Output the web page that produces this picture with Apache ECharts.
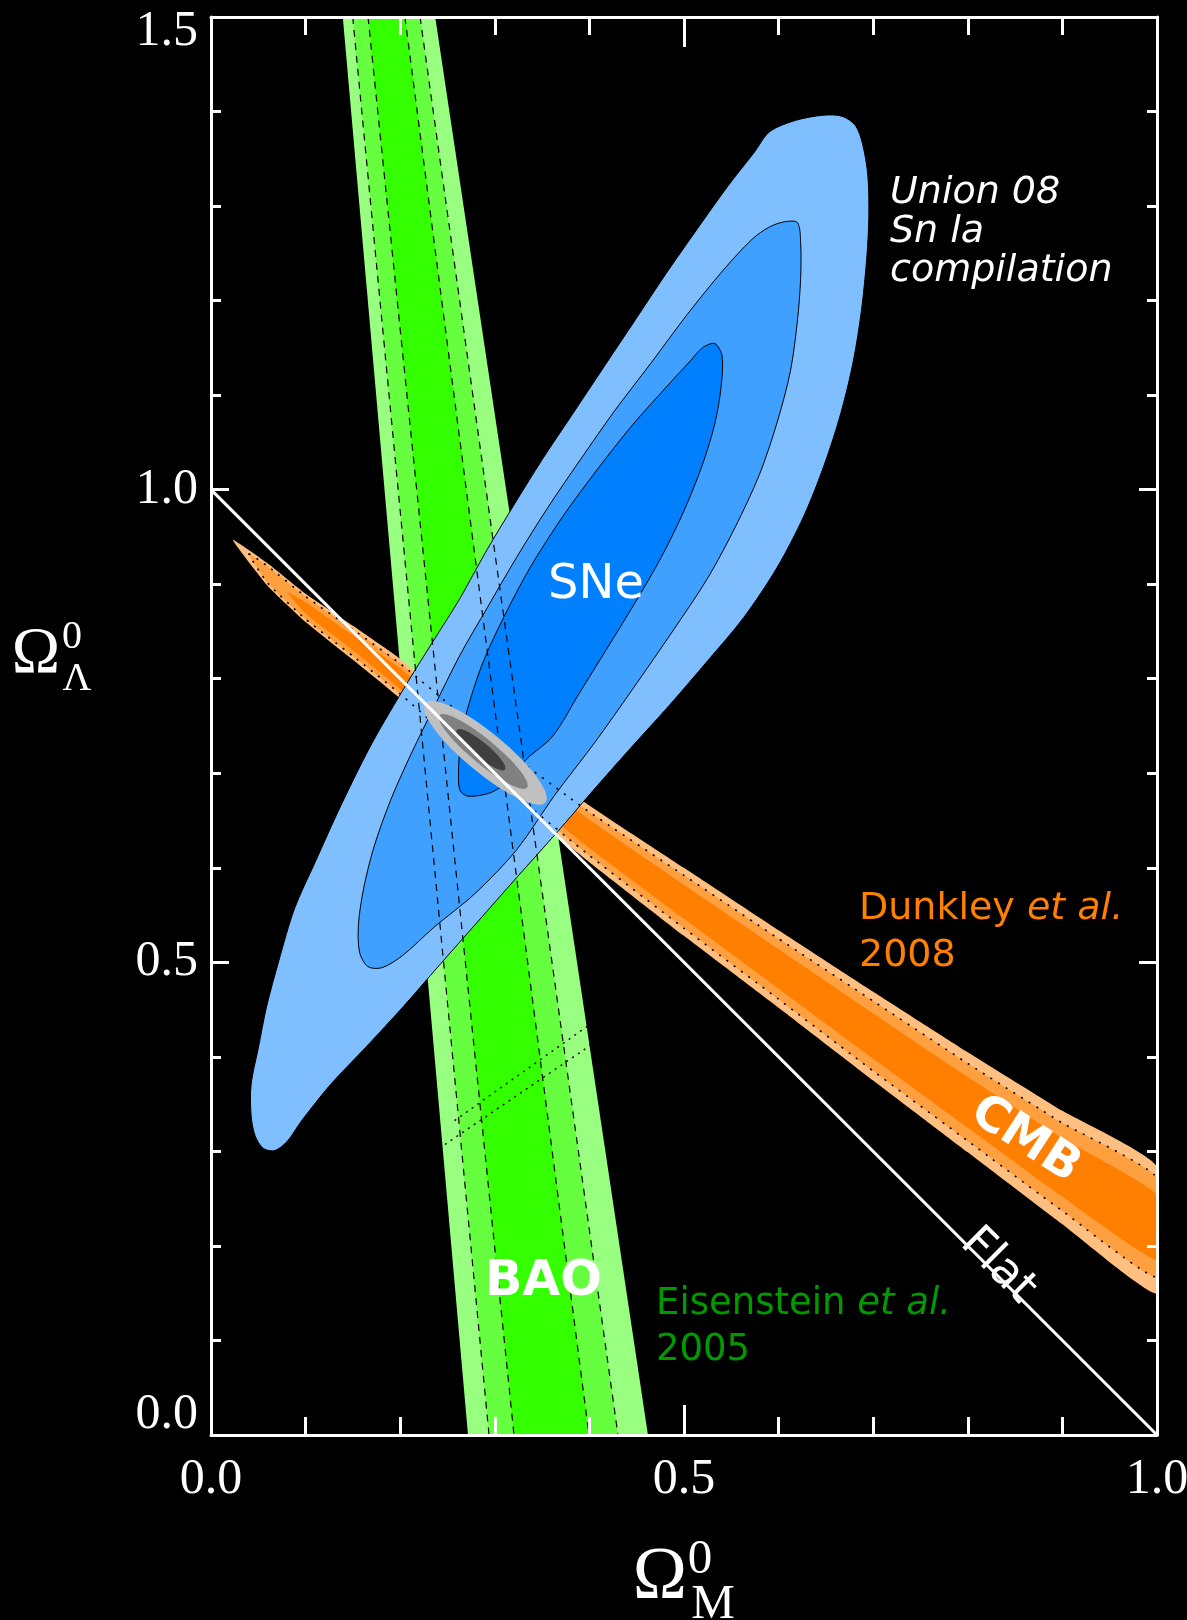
<!DOCTYPE html>
<html>
<head>
<meta charset="utf-8">
<title>Omega_M - Omega_Lambda constraints</title>
<script src="https://cdn.jsdelivr.net/npm/echarts@6/dist/echarts.min.js"></script>
<style>
  html, body { margin: 0; padding: 0; background: #000; }
  #chart { width: 1187px; height: 1620px; }
</style>
</head>
<body>
<div id="chart"></div>
<script>
// ---- Axis ranges ----
const omegaMRange = [0.0, 1.0];
const omegaLRange = [0.0, 1.5];

// ---- BAO (Eisenstein et al. 2005): confidence bands, [Omega_M, Omega_Lambda] ----
const baoOuter = [[0.1393, 1.5], [0.237, 1.5], [0.4619, 0.0], [0.2717, 0.0]];
const baoMid   = [[0.1498, 1.5], [0.221, 1.5], [0.4302, 0.0], [0.2939, 0.0]];
const baoInner = [[0.166, 1.5], [0.205, 1.5], [0.3996, 0.0], [0.3203, 0.0]];
// BAO contour edges drawn dashed on top of the other constraints
const baoEdges = [
  [[0.1498, 1.5], [0.2939, 0.0]],
  [[0.166, 1.5], [0.3203, 0.0]],
  [[0.205, 1.5], [0.3996, 0.0]],
  [[0.221, 1.5], [0.4302, 0.0]]
];

// ---- CMB (Dunkley et al. 2008) ----
const cmbOuter = [
  [0.023, 0.947], [0.06, 0.922], [0.10, 0.890], [0.15, 0.856], [0.20, 0.821], [0.30, 0.740],
  [0.40, 0.666], [0.50, 0.600], [0.60, 0.534], [0.70, 0.469], [0.80, 0.405], [0.90, 0.343], [1.00, 0.284],
  [1.00, 0.150], [0.90, 0.223], [0.80, 0.299], [0.70, 0.375], [0.60, 0.452], [0.50, 0.528],
  [0.40, 0.606], [0.30, 0.688], [0.20, 0.779], [0.15, 0.820], [0.10, 0.860], [0.06, 0.898]
];
const cmbMid = [
  [0.04, 0.932], [0.06, 0.919], [0.10, 0.887], [0.15, 0.852], [0.20, 0.816], [0.30, 0.733],
  [0.40, 0.659], [0.50, 0.592], [0.60, 0.525], [0.70, 0.459], [0.80, 0.393], [0.90, 0.330], [1.00, 0.272],
  [1.00, 0.167], [0.90, 0.237], [0.80, 0.311], [0.70, 0.385], [0.60, 0.461], [0.50, 0.536],
  [0.40, 0.613], [0.30, 0.695], [0.20, 0.784], [0.15, 0.824], [0.10, 0.863], [0.06, 0.901]
];
const cmbInner = [
  [0.08, 0.892], [0.10, 0.881], [0.15, 0.846], [0.20, 0.811], [0.30, 0.726], [0.40, 0.651],
  [0.50, 0.582], [0.60, 0.514], [0.70, 0.446], [0.80, 0.379], [0.90, 0.314], [1.00, 0.254],
  [1.00, 0.185], [0.90, 0.252], [0.80, 0.325], [0.70, 0.398], [0.60, 0.472], [0.50, 0.546],
  [0.40, 0.621], [0.30, 0.702], [0.20, 0.789], [0.15, 0.830], [0.10, 0.869]
];

// ---- SNe Ia (Union 08 compilation) ----
const snOuter = [
  [0.5905, 1.3786], [0.6178, 1.3906], [0.6473, 1.3961], [0.6670, 1.3950], [0.6812, 1.3852],
  [0.6888, 1.3655], [0.6943, 1.3327], [0.6954, 1.2890], [0.6932, 1.2453], [0.6877, 1.1906],
  [0.6790, 1.1360], [0.6659, 1.0813], [0.6484, 1.0267], [0.6266, 0.9720], [0.5982, 0.9174],
  [0.5632, 0.8649], [0.5250, 0.8190], [0.4846, 0.7720], [0.4431, 0.7261], [0.4016, 0.6791],
  [0.3667, 0.6386], [0.3230, 0.5895], [0.2815, 0.5425], [0.2411, 0.4966], [0.2029, 0.4528],
  [0.1647, 0.4113], [0.1264, 0.3708], [0.0959, 0.3326], [0.0806, 0.3107], [0.0675, 0.3009],
  [0.0555, 0.3031], [0.0467, 0.3162], [0.0424, 0.3381], [0.0424, 0.3708], [0.0500, 0.4091],
  [0.0587, 0.4528], [0.0718, 0.5020], [0.0882, 0.5566], [0.1101, 0.6059], [0.1374, 0.6660],
  [0.1701, 0.7316], [0.2083, 0.7971], [0.2356, 0.8409], [0.2629, 0.8846], [0.2902, 0.9337],
  [0.3197, 0.9829], [0.3503, 1.0321], [0.3831, 1.0813], [0.4158, 1.1305], [0.4486, 1.1797],
  [0.4813, 1.2289], [0.5141, 1.2759], [0.5469, 1.3218], [0.5742, 1.3567]
];
const snMid = [
  [0.5905, 1.2780], [0.6069, 1.2835], [0.6200, 1.2824], [0.6233, 1.2616], [0.6233, 1.2234],
  [0.6200, 1.1797], [0.6124, 1.1250], [0.5982, 1.0704], [0.5796, 1.0157], [0.5545, 0.9611],
  [0.5250, 0.9064], [0.4890, 0.8518], [0.4453, 0.7884], [0.4049, 0.7315], [0.3634, 0.6769],
  [0.3230, 0.6190], [0.2793, 0.5730], [0.2356, 0.5370], [0.2029, 0.5075], [0.1810, 0.4944],
  [0.1658, 0.4955], [0.1570, 0.5108], [0.1559, 0.5403], [0.1614, 0.5785], [0.1723, 0.6222],
  [0.1898, 0.6714], [0.2116, 0.7206], [0.2356, 0.7698], [0.2629, 0.8245], [0.2924, 0.8758],
  [0.3230, 0.9283], [0.3558, 0.9807], [0.3907, 1.0321], [0.4267, 1.0835], [0.4650, 1.1338],
  [0.5032, 1.1851], [0.5414, 1.2321], [0.5720, 1.2649]
];
const snInner = [
  [0.5196, 1.1502], [0.5326, 1.1545], [0.5403, 1.1414], [0.5392, 1.1086], [0.5327, 1.0704],
  [0.5196, 1.0267], [0.4999, 0.9775], [0.4759, 0.9283], [0.4475, 0.8791], [0.4180, 0.8310],
  [0.3896, 0.7851], [0.3612, 0.7392], [0.3339, 0.7152], [0.3121, 0.6900], [0.2946, 0.6791],
  [0.2717, 0.6758], [0.2629, 0.6824], [0.2619, 0.7097], [0.2651, 0.7425], [0.2739, 0.7774],
  [0.2881, 0.8190], [0.3099, 0.8660], [0.3372, 0.9174], [0.3721, 0.9720], [0.4082, 1.0212],
  [0.4453, 1.0682], [0.4813, 1.1086], [0.5065, 1.1360]
];
// SNe contours including systematics, dotted (seen only where they cross the BAO band)
const snSysEdges = [
  [[0.2411, 0.3031], [0.4158, 0.4222]],
  [[0.2575, 0.3326], [0.4158, 0.4452]]
];

// ---- Combined fit: [centre Omega_M, centre Omega_Lambda, semi-major, semi-minor, tilt (deg)] ----
const combinedFit = [
  [0.2900, 0.7217, 0.0825, 0.021, -39.5],
  [0.2879, 0.7231, 0.0600, 0.013, -39.5],
  [0.2854, 0.7249, 0.0330, 0.008, -39.5]
];

// ---- Flat universe: Omega_M + Omega_Lambda = 1 ----
const flatLine = [[0.0, 1.0], [1.0, 0.0]];

// ---- Styling ----
const C = {
  baoOuter: '#99ff80', baoMid: '#66ff40', baoInner: '#33ff00',
  cmbOuter: '#ffbf80', cmbMid: '#ffa040', cmbInner: '#ff8000',
  snOuter: '#80bfff', snMid: '#40a0ff', snInner: '#0080ff',
  combined: ['#c0c0c0', '#808080', '#404040']
};
const serif = '"Liberation Serif", "Times New Roman", serif';
const sans = '"DejaVu Sans", Verdana, sans-serif';

function areaSeries(id, pts, fill, z, smooth, stroke) {
  return {
    type: 'custom', id: id, coordinateSystem: 'cartesian2d',
    xAxisIndex: 0, yAxisIndex: 0, clip: true, silent: true, z: z,
    data: pts, encode: { x: 0, y: 1 },
    renderItem(params, api) {
      if (params.dataIndex !== 0) return null;
      return {
        type: 'polygon',
        shape: { points: pts.map(p => api.coord(p)), smooth: smooth || 0 },
        style: stroke ? { fill: fill, stroke: stroke, lineWidth: 1 } : { fill: fill }
      };
    }
  };
}

function outlineSeries(id, lines, closed, dash, width, z) {
  const flat = [].concat(...lines);
  return {
    type: 'custom', id: id, coordinateSystem: 'cartesian2d',
    xAxisIndex: 0, yAxisIndex: 0, clip: true, silent: true, z: z,
    data: flat, encode: { x: 0, y: 1 },
    renderItem(params, api) {
      if (params.dataIndex !== 0) return null;
      return {
        type: 'group',
        children: lines.map(l => ({
          type: closed ? 'polygon' : 'polyline',
          shape: { points: l.map(p => api.coord(p)), smooth: closed ? 0.15 : 0 },
          style: { fill: 'none', stroke: '#000', lineWidth: width, lineDash: dash }
        }))
      };
    }
  };
}

const chart = echarts.init(document.getElementById('chart'), null, { renderer: 'canvas' });

function baseAxis(extra) {
  return Object.assign({
    type: 'value',
    splitLine: { show: false },
    minorSplitLine: { show: false },
    axisLine: { show: true, onZero: false, lineStyle: { color: '#fff', width: 3 } },
    z: 10
  }, extra);
}

const xTick = { show: true, inside: true, length: 30, lineStyle: { color: '#fff', width: 3 } };
const xMinor = { show: true, splitNumber: 5, length: 18, lineStyle: { color: '#fff', width: 3 } };
const yTick = { show: true, inside: true, length: 18, lineStyle: { color: '#fff', width: 3 } };
const yMinor = { show: true, splitNumber: 5, length: 10, lineStyle: { color: '#fff', width: 3 } };
const tickFont = { fontFamily: serif, fontSize: 50, color: '#fff' };

const option = {
  backgroundColor: '#000',
  animation: false,
  grid: { left: 211, right: 30, top: 17, bottom: 185, containLabel: false, outerBoundsMode: 'none' },
  xAxis: [
    baseAxis({
      position: 'bottom', min: omegaMRange[0], max: omegaMRange[1], interval: 0.5,
      axisTick: xTick, minorTick: xMinor,
      axisLabel: Object.assign({ show: true, margin: 20, formatter: v => v.toFixed(1) }, tickFont)
    }),
    baseAxis({
      position: 'top', min: omegaMRange[0], max: omegaMRange[1], interval: 0.5,
      axisTick: xTick, minorTick: xMinor, axisLabel: { show: false }
    })
  ],
  yAxis: [
    baseAxis({
      position: 'left', min: omegaLRange[0], max: omegaLRange[1], interval: 0.5,
      axisTick: yTick, minorTick: yMinor,
      axisLabel: Object.assign({
        show: true, margin: 13,
        formatter: v => {
          const t = v.toFixed(1);
          if (v === omegaLRange[0]) return '{lo|' + t + '}';
          if (v === omegaLRange[1]) return '{hi|' + t + '}';
          return '{n|' + t + '}';
        },
        rich: {
          n: Object.assign({}, tickFont),
          lo: Object.assign({ padding: [0, 0, 40, 0] }, tickFont),
          hi: Object.assign({ padding: [30, 0, 0, 0] }, tickFont)
        }
      }, tickFont)
    }),
    baseAxis({
      position: 'right', min: omegaLRange[0], max: omegaLRange[1], interval: 0.5,
      axisTick: yTick, minorTick: yMinor, axisLabel: { show: false }
    })
  ],
  series: [
    areaSeries('baoOuter', baoOuter, C.baoOuter, 2),
    areaSeries('baoMid', baoMid, C.baoMid, 2),
    areaSeries('baoInner', baoInner, C.baoInner, 2),
    areaSeries('cmbOuter', cmbOuter, C.cmbOuter, 3, 0.15),
    areaSeries('cmbMid', cmbMid, C.cmbMid, 3, 0.15),
    areaSeries('cmbInner', cmbInner, C.cmbInner, 3, 0.15),
    areaSeries('snOuter', snOuter, C.snOuter, 4, 0.3, '#000'),
    areaSeries('snMid', snMid, C.snMid, 4, 0.3, '#000'),
    areaSeries('snInner', snInner, C.snInner, 4, 0.3, '#000'),
    outlineSeries('baoEdges', baoEdges, false, [7, 6], 1.2, 5),
    outlineSeries('cmbEdges', [cmbMid], true, [2, 7], 1.6, 5),
    outlineSeries('snSysEdges', snSysEdges, false, [2, 5], 1.4, 5),
    {
      type: 'custom', id: 'combined', coordinateSystem: 'cartesian2d', clip: true, silent: true, z: 6,
      data: combinedFit, encode: { x: 0, y: 1 },
      renderItem(params, api) {
        const c = api.coord([api.value(0), api.value(1)]);
        const s = api.size([api.value(2), api.value(3)]);
        return {
          type: 'ellipse', x: c[0], y: c[1], rotation: api.value(4) * Math.PI / 180,
          shape: { cx: 0, cy: 0, rx: s[0], ry: s[1] },
          style: { fill: C.combined[params.dataIndex] }
        };
      }
    },
    {
      type: 'line', id: 'flat', data: flatLine, symbol: 'none', clip: true, silent: true, z: 7,
      lineStyle: { color: '#fff', width: 3 }
    }
  ],
  graphic: [
    // axis titles
    { type: 'text', x: 36, y: 655, z: 20, style: { text: 'Ω', font: '65px ' + serif, fill: '#fff', align: 'center', verticalAlign: 'middle' } },
    { type: 'text', x: 72, y: 637, z: 20, style: { text: '0', font: '40px ' + serif, fill: '#fff', align: 'center', verticalAlign: 'middle' } },
    { type: 'text', x: 77, y: 679, z: 20, style: { text: 'Λ', font: '40px ' + serif, fill: '#fff', align: 'center', verticalAlign: 'middle' } },
    { type: 'text', x: 660, y: 1579, z: 20, style: { text: 'Ω', font: '73px ' + serif, fill: '#fff', align: 'center', verticalAlign: 'middle' } },
    { type: 'text', x: 700, y: 1560, z: 20, style: { text: '0', font: '49px ' + serif, fill: '#fff', align: 'center', verticalAlign: 'middle' } },
    { type: 'text', x: 713, y: 1605, z: 20, style: { text: 'M', font: '49px ' + serif, fill: '#fff', align: 'center', verticalAlign: 'middle' } },
    // annotations
    { type: 'text', x: 596, y: 586, z: 20, style: { text: 'SNe', font: '48px ' + sans, fill: '#fff', align: 'center', verticalAlign: 'middle' } },
    { type: 'text', x: 890, y: 174, z: 20, style: { text: 'Union 08\nSn la\ncompilation', font: 'italic 38px ' + sans, lineHeight: 39, fill: '#fff', align: 'left', verticalAlign: 'top' } },
    { type: 'text', x: 859, y: 886, z: 20, style: {
        text: '{n|Dunkley }{i|et al.}\n{n|2008}', fill: '#ff8000', align: 'left', verticalAlign: 'top',
        rich: {
          n: { fontFamily: sans, fontSize: 38, lineHeight: 47, fill: '#ff8000' },
          i: { fontFamily: sans, fontSize: 38, fontStyle: 'italic', lineHeight: 47, fill: '#ff8000' }
        } } },
    { type: 'text', x: 656, y: 1281, z: 20, style: {
        text: '{n|Eisenstein }{i|et al.}\n{n|2005}', fill: '#009a00', align: 'left', verticalAlign: 'top',
        rich: {
          n: { fontFamily: sans, fontSize: 37, lineHeight: 46, fill: '#009a00' },
          i: { fontFamily: sans, fontSize: 37, fontStyle: 'italic', lineHeight: 46, fill: '#009a00' }
        } } },
    { type: 'text', x: 485, y: 1282, z: 20, style: { text: 'BAO', font: 'bold 49px ' + sans, fill: '#fff', align: 'left', verticalAlign: 'middle' } },
    { type: 'text', x: 1025, y: 1140, z: 20, rotation: -33 * Math.PI / 180, style: { text: 'CMB', font: 'bold 48px ' + sans, fill: '#fff', align: 'center', verticalAlign: 'middle' } },
    { type: 'text', x: 998, y: 1266, z: 20, rotation: -45 * Math.PI / 180, style: { text: 'Flat', font: '46px ' + sans, fill: '#fff', align: 'center', verticalAlign: 'middle' } }
  ]
};

chart.setOption(option);
</script>
</body>
</html>
